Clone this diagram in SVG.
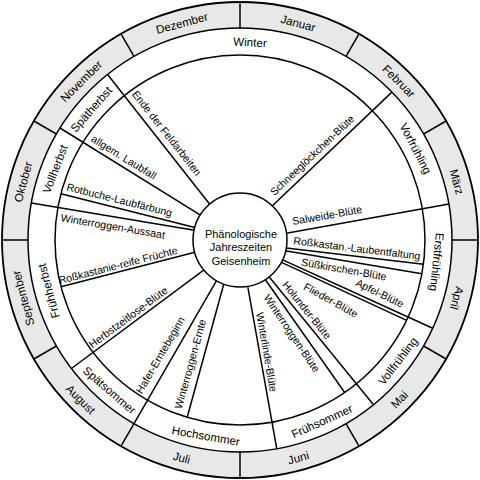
<svg xmlns="http://www.w3.org/2000/svg" width="480" height="480" viewBox="0 0 480 480">
<style>
text{font-family:"Liberation Sans",Arial,sans-serif;fill:#000;text-anchor:middle;dominant-baseline:central}
.m{font-size:11.6px}
.s{font-size:11.6px}
.e{font-size:10.6px}
.c{font-size:11px}
.ln{stroke:#000;stroke-width:1.5;fill:none}
</style>
<rect width="480" height="480" fill="#fff"/>
<g id="rings">
<circle cx="240" cy="240" r="238" fill="#e8e8e8" stroke="#000" stroke-width="1.8"/>
<circle cx="240" cy="240" r="212" fill="#fff" stroke="#000" stroke-width="1.5"/>
<circle cx="240" cy="240" r="185" fill="none" stroke="#000" stroke-width="1.5"/>
</g>
<g id="connectors" class="ln">
<path d="M240,28 L240,2 M346,56.4 L359,33.9 M423.6,134 L446.1,121 M452,240 L478,240 M423.6,346 L446.1,359 M346,423.6 L359,446.1 M240,452 L240,478 M134,423.6 L121,446.1 M56.4,346 L33.9,359 M28,240 L2,240 M56.4,134 L33.9,121 M134,56.4 L121,33.9"/>
<path d="M391.9,92.1 L268.7,209.2"/>
<path d="M449,204 L282.1,233.9"/>
<path d="M423.4,264.2 L282,247.4"/>
<path d="M421.9,273.8 L282.1,250.2"/>
<path d="M432.7,328.3 L280.5,258.9"/>
<path d="M406.7,320.4 L277.7,260.6"/>
<path d="M373.5,404.8 L265,271.8"/>
<path d="M344.7,392.5 L262.4,275.5"/>
<path d="M276.8,448.8 L246.6,280.1"/>
<path d="M187.2,417.3 L225.1,279.3"/>
<path d="M134,423.6 L220,274.6"/>
<path d="M71.4,368.5 L206.4,268.2"/>
<path d="M61,286.7 L197.8,251.5"/>
<path d="M31.3,202.9 L198.9,231"/>
<path d="M60.9,193.8 L198.8,228.5"/>
<path d="M60,128 L202.1,216.2"/>
<path d="M107.6,74.5 L211.7,206.7"/>
</g>
<g id="center">
<circle cx="240" cy="240" r="47" fill="#fff" stroke="#000" stroke-width="1.5"/>
<text class="c" x="241" y="233.5">Phänologische</text>
<text class="c" x="241" y="247">Jahreszeiten</text>
<text class="c" x="241" y="260.5">Geisenheim</text>
</g>
<g id="months" class="m">
<g id="m-januar"><text transform="translate(298.2,22.7) rotate(15)">Januar</text></g>
<g id="m-februar"><text transform="translate(399.1,80.9) rotate(45)">Februar</text></g>
<g id="m-maerz"><text transform="translate(457.3,181.8) rotate(75)">März</text></g>
<g id="m-april"><text transform="translate(457.3,298.2) rotate(105)">April</text></g>
<g id="m-mai"><text transform="translate(399.1,399.1) rotate(-45)">Mai</text></g>
<g id="m-juni"><text transform="translate(298.2,457.3) rotate(-15)">Juni</text></g>
<g id="m-juli"><text transform="translate(181.8,457.3) rotate(15)">Juli</text></g>
<g id="m-august"><text transform="translate(80.9,399.1) rotate(45)">August</text></g>
<g id="m-september"><text transform="translate(22.7,298.2) rotate(-105)">September</text></g>
<g id="m-oktober"><text transform="translate(22.7,181.8) rotate(-75)">Oktober</text></g>
<g id="m-november"><text transform="translate(80.9,80.9) rotate(-45)">November</text></g>
<g id="m-dezember"><text transform="translate(181.8,22.7) rotate(-15)">Dezember</text></g>
</g>
<g id="seasons" class="s">
<g id="s-winter"><text transform="translate(250,41.8) rotate(3)">Winter</text></g>
<g id="s-vorfruehling"><text transform="translate(416,148.3) rotate(62.5)">Vorfrühling</text></g>
<g id="s-erstfruehling"><text transform="translate(437.3,262.1) rotate(96.4)">Erstfrühling</text></g>
<g id="s-vollfruehling"><text transform="translate(397.5,360.8) rotate(-52.5)">Vollfrühling</text></g>
<g id="s-fruehsommer"><text transform="translate(321.8,420.9) rotate(-24.3)">Frühsommer</text></g>
<g id="s-hochsommer"><text transform="translate(205.9,435.5) rotate(9.9)">Hochsommer</text></g>
<g id="s-spaetsommer"><text transform="translate(109.8,389.8) rotate(41)">Spätsommer</text></g>
<g id="s-fruehherbst"><text transform="translate(48.2,291.1) rotate(-104.9)">Frühherbst</text></g>
<g id="s-vollherbst"><text transform="translate(54.7,168.9) rotate(-69)">Vollherbst</text></g>
<g id="s-spaetherbst"><text transform="translate(90.9,109) rotate(-48.7)">Spätherbst</text></g>
</g>
<g id="events" class="e">
<g id="e-schneegloeckchen"><text transform="translate(312,155) rotate(-43.5)">Schneeglöckchen-Blüte</text></g>
<g id="e-salweide"><text transform="translate(327,215) rotate(-10)">Salweide-Blüte</text></g>
<g id="e-rosskastan-laub"><text transform="translate(357,248) rotate(7)">Roßkastan.-Laubentfaltung</text></g>
<g id="e-suesskirschen"><text transform="translate(344,269) rotate(10)">Süßkirschen-Blüte</text></g>
<g id="e-apfel"><text transform="translate(380,293) rotate(26)">Apfel-Blüte</text></g>
<g id="e-flieder"><text transform="translate(331,300) rotate(29)">Flieder-Blüte</text></g>
<g id="e-holunder"><text transform="translate(307,310) rotate(51)">Holunder-Blüte</text></g>
<g id="e-winterroggen-bluete"><text transform="translate(292,333) rotate(56)">Winterroggen-Blüte</text></g>
<g id="e-winterlinde"><text transform="translate(267,352) rotate(80)">Winterlinde-Blüte</text></g>
<g id="e-winterroggen-ernte"><text transform="translate(190,364) rotate(-74.6)">Winterroggen-Ernte</text></g>
<g id="e-hafer"><text transform="translate(160,355) rotate(-60)">Hafer-Erntebeginn</text></g>
<g id="e-herbstzeitlose"><text transform="translate(128,317) rotate(-36.6)">Herbstzeitlose-Blüte</text></g>
<g id="e-rosskastanie-fruechte"><text transform="translate(118,265) rotate(-14.4)">Roßkastanie-reife Früchte</text></g>
<g id="e-winterroggen-aussaat"><text transform="translate(113,226) rotate(9.5)">Winterroggen-Aussaat</text></g>
<g id="e-rotbuche"><text transform="translate(119.5,199.5) rotate(14.1)">Rotbuche-Laubfärbung</text></g>
<g id="e-laubfall"><text transform="translate(124,157) rotate(31.8)">allgem. Laubfall</text></g>
<g id="e-feldarbeiten"><text transform="translate(167,133) rotate(51.8)">Ende der Feldarbeiten</text></g>
</g>
</svg>
